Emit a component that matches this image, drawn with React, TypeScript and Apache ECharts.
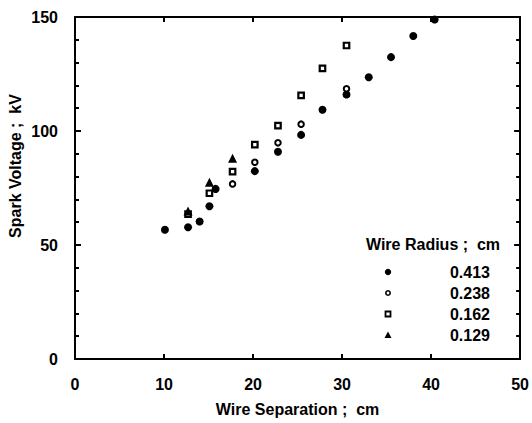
import React, { useEffect, useRef } from "react";
import * as echarts from "echarts";

const seriesNames = ["0.413", "0.238", "0.162", "0.129"];
const r413: [number, number][] = [
  [10.1, 56.7], [12.7, 57.8], [14.0, 60.3], [15.1, 67.0], [15.8, 74.6],
  [20.2, 82.4], [22.8, 90.9], [25.4, 98.3], [27.8, 109.3], [30.5, 116.0],
  [33.0, 123.6], [35.5, 132.4], [38.0, 141.7], [40.4, 148.9],
];
const r238: [number, number][] = [
  [17.7, 76.8], [20.2, 86.3], [22.8, 94.8], [25.4, 103.0], [30.5, 118.5],
];
const r162: [number, number][] = [
  [12.7, 63.5], [15.1, 72.7], [17.7, 82.2], [20.2, 94.0], [22.8, 102.4],
  [25.4, 115.6], [27.8, 127.5], [30.5, 137.5],
];
const r129: [number, number][] = [
  [12.7, 64.9], [15.1, 77.5], [17.7, 88.0],
];
const xTicks = [0, 10, 20, 30, 40, 50];
const yTicks = [0, 50, 100, 150];

const FONT = "'Liberation Sans', Arial, sans-serif";
const FS = 16;

export default function App() {
  const ref = useRef<HTMLDivElement>(null);
  useEffect(() => {
    if (!ref.current) return;
    const chart = echarts.init(ref.current, null, { renderer: "svg" });
    const axisCommon = {
      axisLine: { show: true, onZero: false, lineStyle: { color: "#000", width: 2 } },
      splitLine: { show: false },
    };
    const lx = 388;
    const tx = 490;
    const rows = [272, 293, 314, 335];
    chart.setOption({
      animation: false,
      backgroundColor: "#fff",
      textStyle: { fontFamily: FONT },
      grid: { left: 75, right: 7, top: 17, bottom: 64 },
      xAxis: [
        {
          type: "value", min: xTicks[0], max: xTicks[xTicks.length - 1], interval: 10,
          position: "bottom",
          ...axisCommon,
          axisTick: { show: true, inside: true, length: 5, lineStyle: { color: "#000", width: 2 } },
          axisLabel: { color: "#000", fontSize: FS, fontWeight: "bold", margin: 17, fontFamily: FONT },
          name: "Wire Separation ;  cm", nameLocation: "middle", nameGap: 42,
          nameTextStyle: { color: "#000", fontSize: FS, fontWeight: "bold", fontFamily: FONT },
        },
        {
          type: "value", min: 0, max: 50, interval: 10, position: "top",
          ...axisCommon,
          axisTick: { show: true, inside: true, length: 5, lineStyle: { color: "#000", width: 2 } },
          axisLabel: { show: false },
        },
      ],
      yAxis: [
        {
          type: "value", min: yTicks[0], max: yTicks[yTicks.length - 1], interval: 50,
          position: "left",
          ...axisCommon,
          axisTick: { show: true, inside: true, length: 6, lineStyle: { color: "#000", width: 2 } },
          minorTick: { show: true, splitNumber: 5, length: 4, lineStyle: { color: "#000", width: 2 } },
          axisLabel: { color: "#000", fontSize: FS, fontWeight: "bold", margin: 17, fontFamily: FONT },
        },
        {
          type: "value", min: 0, max: 150, interval: 50, position: "right",
          ...axisCommon,
          axisTick: { show: true, inside: true, length: 6, lineStyle: { color: "#000", width: 2 } },
          minorTick: { show: true, splitNumber: 5, length: 4, lineStyle: { color: "#000", width: 2 } },
          axisLabel: { show: false },
        },
      ],
      series: [
        {
          name: seriesNames[0], type: "scatter", data: r413, symbol: "circle", symbolSize: 8,
          itemStyle: { color: "#000", opacity: 1 },
        },
        {
          name: seriesNames[1], type: "scatter", data: r238, symbol: "circle", symbolSize: 5.5,
          itemStyle: { color: "#fff", borderColor: "#000", borderWidth: 2, opacity: 1 },
        },
        {
          name: seriesNames[2], type: "scatter", data: r162, symbol: "rect", symbolSize: 5.5,
          itemStyle: { color: "#fff", borderColor: "#000", borderWidth: 2.2, opacity: 1 },
        },
        {
          name: seriesNames[3], type: "scatter", data: r129, symbol: "triangle", symbolSize: 9,
          itemStyle: { color: "#000", opacity: 1 },
        },
      ],
      graphic: [
        {
          type: "text", x: 15, y: 166, rotation: Math.PI / 2,
          style: {
            text: "Spark Voltage ;  kV", fill: "#000", font: `bold ${FS}px ${FONT}`,
            align: "center", verticalAlign: "middle",
          },
        },
        {
          type: "text", x: 433, y: 244,
          style: {
            text: "Wire Radius ;  cm", fill: "#000", font: `bold ${FS}px ${FONT}`,
            align: "center", verticalAlign: "middle",
          },
        },
        { type: "circle", shape: { cx: lx, cy: rows[0], r: 3.2 }, style: { fill: "#000" } },
        { type: "circle", shape: { cx: lx, cy: rows[1], r: 2.2 }, style: { fill: "#fff", stroke: "#000", lineWidth: 1.6 } },
        { type: "rect", shape: { x: lx - 2.5, y: rows[2] - 2.5, width: 5, height: 5 }, style: { fill: "#fff", stroke: "#000", lineWidth: 1.8 } },
        { type: "polygon", shape: { points: [[lx, rows[3] - 3.5], [lx + 3.5, rows[3] + 3], [lx - 3.5, rows[3] + 3]] }, style: { fill: "#000" } },
        ...seriesNames.map((n, i) => ({
          type: "text", x: tx, y: rows[i],
          style: { text: n, fill: "#000", font: `bold ${FS}px ${FONT}`, align: "right", verticalAlign: "middle" },
        })),
      ],
    });
    return () => chart.dispose();
  }, []);
  return <div ref={ref} style={{ width: 532, height: 423, position: "absolute", left: 0, top: 0 }} />;
}
